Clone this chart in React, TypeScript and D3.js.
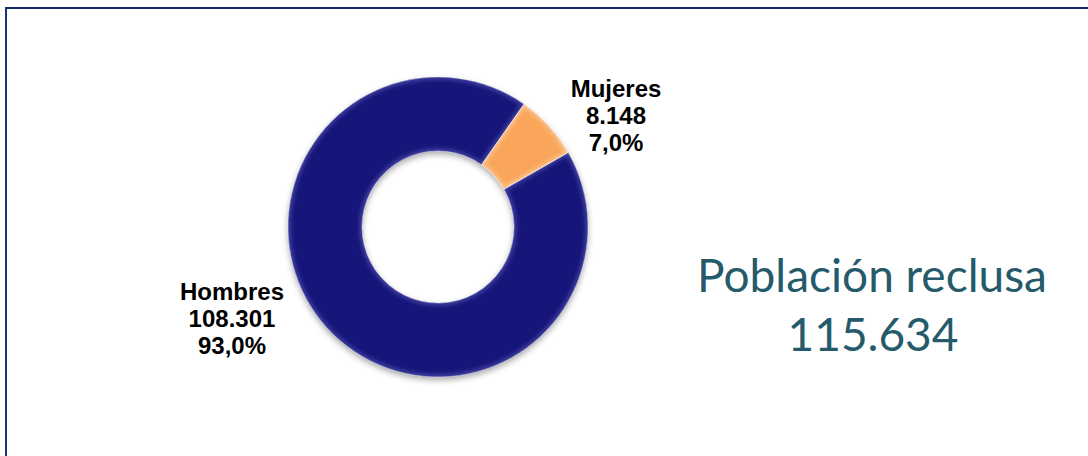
import React from "react";
import * as d3 from "d3";

const categories = ["Hombres", "Mujeres"];
const values = [108301, 8148];
const valueLabels = ["108.301", "8.148"];
const percentLabels = ["93,0%", "7,0%"];
const colors = ["#12127A", "#F9A65A"];
const edgeColors = ["#4a4aa8", "#fcc896"];
const titleLines = ["Población reclusa", "115.634"];

const W = 1088;
const H = 456;
const cx = 438;
const cy = 227;
const outerR = 150;
const innerR = 76;

export default function App() {
  const pie = d3
    .pie<number>()
    .sort(null)
    .startAngle((60.2 * Math.PI) / 180)
    .endAngle((60.2 * Math.PI) / 180 + 2 * Math.PI);
  const arcs = pie(values);
  const arc = d3.arc<d3.PieArcDatum<number>>().innerRadius(innerR).outerRadius(outerR);

  const labelPos = [
    { x: 232, y: 291 },
    { x: 616, y: 88 },
  ];

  return (
    <svg
      width={W}
      height={H}
      style={{ position: "absolute", left: 0, top: 0, background: "#fff" }}
    >
      <defs>
        <filter id="shadow" x="-20%" y="-20%" width="140%" height="140%">
          <feGaussianBlur in="SourceAlpha" stdDeviation="3" result="b" />
          <feOffset in="b" dx="0" dy="3" result="o" />
          <feComponentTransfer in="o" result="s">
            <feFuncA type="linear" slope="0.35" />
          </feComponentTransfer>
          <feMerge>
            <feMergeNode in="s" />
            <feMergeNode in="SourceGraphic" />
          </feMerge>
        </filter>
        <filter id="soft" x="-10%" y="-10%" width="120%" height="120%">
          <feGaussianBlur stdDeviation="2.2" />
        </filter>
        {arcs.map((a, i) => (
          <clipPath key={`clip-${i}`} id={`clip-${i}`}>
            <path d={arc(a) || ""} />
          </clipPath>
        ))}
      </defs>

      {/* frame */}
      <line x1={6} y1={8} x2={W} y2={8} stroke="#0f2a62" strokeWidth={2} />
      <line x1={6} y1={7} x2={6} y2={H} stroke="#17337a" strokeWidth={2} />

      <g transform={`translate(${cx},${cy})`}>
        <g filter="url(#shadow)">
          {arcs.map((a, i) => (
            <path key={categories[i]} d={arc(a) || ""} fill={colors[i]} />
          ))}
        </g>
        {arcs.map((a, i) => (
          <g key={`edge-${i}`} clipPath={`url(#clip-${i})`}>
            <path
              d={arc(a) || ""}
              fill="none"
              stroke={edgeColors[i]}
              strokeWidth={5}
              filter="url(#soft)"
              opacity={0.9}
            />
          </g>
        ))}
        {arcs.map((a, i) => (
          <path
            key={`sep-${i}`}
            d={arc(a) || ""}
            fill="none"
            stroke="#ffffff"
            strokeOpacity={0.6}
            strokeWidth={0.8}
          />
        ))}
      </g>

      {categories.map((c, i) => (
        <text
          key={c}
          x={labelPos[i].x}
          textAnchor="middle"
          fontFamily="Liberation Sans, Arial, sans-serif"
          fontWeight="bold"
          fontSize={24}
          fill="#000"
        >
          <tspan x={labelPos[i].x} y={labelPos[i].y} dominantBaseline="central">
            {c}
          </tspan>
          <tspan x={labelPos[i].x} y={labelPos[i].y + 27} dominantBaseline="central">
            {valueLabels[i]}
          </tspan>
          <tspan x={labelPos[i].x} y={labelPos[i].y + 54} dominantBaseline="central">
            {percentLabels[i]}
          </tspan>
        </text>
      ))}

      <text
        x={872}
        y={292}
        textAnchor="middle"
        fontFamily="Lato, sans-serif"
        fontSize={46}
        fill="#245a6a"
      >
        {titleLines[0]}
      </text>
      <text
        x={873}
        y={351}
        textAnchor="middle"
        fontFamily="Lato, sans-serif"
        fontSize={46}
        fill="#245a6a"
      >
        {titleLines[1]}
      </text>
    </svg>
  );
}
